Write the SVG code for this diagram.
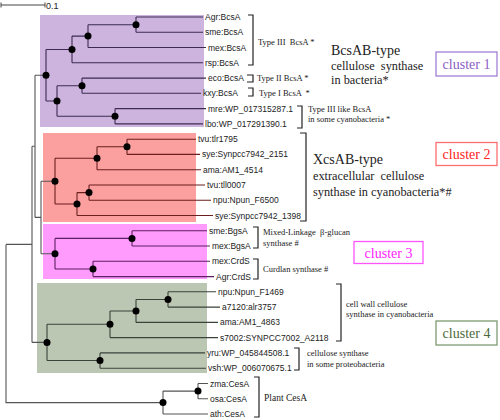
<svg xmlns="http://www.w3.org/2000/svg" width="500" height="420" viewBox="0 0 500 420">
<style>
.lf{font-family:"Liberation Sans",Arial,sans-serif;font-size:8.5px;fill:#222}
.an{font-family:"Liberation Serif","Times New Roman",serif;font-size:8.5px;fill:#222}
.big{font-family:"Liberation Serif","Times New Roman",serif;font-size:12.3px;fill:#222}
.ttl{font-family:"Liberation Serif","Times New Roman",serif;font-size:14px;fill:#222}
.cl{font-family:"Liberation Serif","Times New Roman",serif;font-size:14px;text-anchor:middle}
.br{fill:none;stroke:#222;stroke-width:1.2}
.t{fill:none;stroke-width:1.1}
.dot{fill:#000}
</style>
<rect width="500" height="420" fill="#fff"/>
<!-- cluster backgrounds -->
<g id="cluster-bg">
<rect x="40" y="15" width="164" height="112" fill="#cdb4df"/>
<rect x="43" y="133" width="153" height="89" fill="#fc9f9f"/>
<rect x="43" y="224" width="164" height="55" fill="#fe9bfd"/>
<rect x="37" y="283" width="170" height="90" fill="#bcc7b3"/>
</g>
<!-- scale bar -->
<g id="scale">
<path d="M1 5H45M1 2.5V7.5M45 2.5V7.5" stroke="#444" stroke-width="1" fill="none"/>
<text x="46" y="9" class="lf" style="font-size:9px">0.1</text>
</g>
<g id="connectors">
<!-- backbone -->
<path class="t" stroke="#555" d="M35 75.2H46M41 181.2H55M41 253.7H55M32 342.4H47M41 181.2V253.7M35 217.4H41M35 75.2V217.4M32 146.3H35M32 146.3V342.4M6 244.4H32M6 244.4V402.6H163"/>
<!-- cluster 1 -->
<path class="t" stroke="#3d2b52" d="M136 17V32.3M136 17H203M136 32.3H203M88 24.7V47.5M88 24.7H136M88 47.5H206M72 36.1V62.8M72 36.1H88M72 62.8H203M82 78.1V93.3M82 78.1H206M82 93.3H201M115 108.6V123.9M115 108.6H206M115 123.9H203M57 85.7V116.3M57 85.7H82M57 116.3H115M46 49.5V101M46 49.5H72M46 101H57"/>
<!-- cluster 2 -->
<path class="t" stroke="#6b1f1f" d="M127 139.2V154.4M127 139.2H196M127 154.4H200M97 146.8V169.7M97 146.8H127M97 169.7H201M89 185V200.2M89 185H205M89 200.2H211M77 192.6V215.5M77 192.6H89M77 215.5H213M55 158.3V204M55 158.3H97M55 204H77"/>
<!-- cluster 3 -->
<path class="t" stroke="#5e1f63" d="M132 230.8V246M132 230.8H207M132 246H210M93 261.3V276.6M93 261.3H210M93 276.6H214M55 238.4V269M55 238.4H132M55 269H93"/>
<!-- cluster 4 -->
<path class="t" stroke="#39433a" d="M168 291.8V307.1M168 291.8H216M168 307.1H220M136 299.5V322.4M136 299.5H168M136 322.4H218M110 311V337.6M110 311H136M110 337.6H218M100 352.9V368.2M100 352.9H205M100 368.2H206M47 324.3V360.5M47 324.3H110M47 360.5H100"/>
<!-- plant -->
<path class="t" stroke="#555" d="M198 383.5V398.7M198 383.5H208M198 398.7H208M163 391.1V414M163 391.1H198M163 414H208"/>
<!-- brackets -->
<path class="br" d="M248 15H253V65H248M247 75H253V82H247M248 88H253V96H248M297 106H302V128H297M300 133H306V221H300M253 227H258V248H253M253 259H258V279H253M336 284H341V341H336M294 348H299V370H294M254 377H259V417H254"/>
</g>
<g id="node-dots">
<circle class="dot" cx="136" cy="24.7" r="3.5"/><circle class="dot" cx="88" cy="36.1" r="3.5"/><circle class="dot" cx="72" cy="49.5" r="3.5"/><circle class="dot" cx="82" cy="85.7" r="3.5"/><circle class="dot" cx="115" cy="116.3" r="3.5"/><circle class="dot" cx="57" cy="101" r="3.5"/><circle class="dot" cx="46" cy="75.2" r="3.5"/>
<circle class="dot" cx="127" cy="146.8" r="3.5"/><circle class="dot" cx="97" cy="158.3" r="3.5"/><circle class="dot" cx="89" cy="192.6" r="3.5"/><circle class="dot" cx="77" cy="204" r="3.5"/><circle class="dot" cx="55" cy="181.2" r="3.5"/>
<circle class="dot" cx="132" cy="238.4" r="3.5"/><circle class="dot" cx="93" cy="269" r="3.5"/><circle class="dot" cx="55" cy="253.7" r="3.5"/>
<circle class="dot" cx="168" cy="299.5" r="3.5"/><circle class="dot" cx="136" cy="311" r="3.5"/><circle class="dot" cx="110" cy="324.3" r="3.5"/><circle class="dot" cx="100" cy="360.5" r="3.5"/><circle class="dot" cx="47" cy="342.4" r="3.5"/>
<circle class="dot" cx="198" cy="391.1" r="3.5"/><circle class="dot" cx="163" cy="402.6" r="3.5"/>
</g>
<g id="leaves">
<text class="lf" x="205" y="20">Agr:BcsA</text>
<text class="lf" x="205" y="35.3">sme:BcsA</text>
<text class="lf" x="208" y="50.5">mex:BcsA</text>
<text class="lf" x="205" y="65.8">rsp:BcsA</text>
<text class="lf" x="208" y="81.1">eco:BcsA</text>
<text class="lf" x="203" y="96.3">kxy:BcsA</text>
<text class="lf" x="208" y="111.6">mre:WP_017315287.1</text>
<text class="lf" x="205" y="126.9">lbo:WP_017291390.1</text>
<text class="lf" x="198" y="142.2">tvu:tlr1795</text>
<text class="lf" x="202" y="157.4">sye:Synpcc7942_2151</text>
<text class="lf" x="203" y="172.7">ama:AM1_4514</text>
<text class="lf" x="207" y="188">tvu:tll0007</text>
<text class="lf" x="213" y="203.2">npu:Npun_F6500</text>
<text class="lf" x="215" y="218.5">sye:Synpcc7942_1398</text>
<text class="lf" x="209" y="233.8">sme:BgsA</text>
<text class="lf" x="212" y="249">mex:BgsA</text>
<text class="lf" x="212" y="264.3">mex:CrdS</text>
<text class="lf" x="216" y="279.6">Agr:CrdS</text>
<text class="lf" x="218" y="294.8">npu:Npun_F1469</text>
<text class="lf" x="222" y="310.1">a7120:alr3757</text>
<text class="lf" x="220" y="325.4">ama:AM1_4863</text>
<text class="lf" x="220" y="340.6">s7002:SYNPCC7002_A2118</text>
<text class="lf" x="207" y="355.9">yru:WP_045844508.1</text>
<text class="lf" x="208" y="371.2">vsh:WP_006070675.1</text>
<text class="lf" x="210" y="386.5">zma:CesA</text>
<text class="lf" x="210" y="401.7">osa:CesA</text>
<text class="lf" x="210" y="417">ath:CesA</text>
</g>
<g id="annotations">
<text class="an" x="258" y="45" xml:space="preserve">Type III  BcsA *</text>
<text class="an" x="257" y="81">Type II BcsA *</text>
<text class="an" x="259" y="95.5" xml:space="preserve">Type I BcsA  *</text>
<text class="an" x="308" y="112">Type III like BcsA</text>
<text class="an" x="308" y="122">in some cyanobacteria *</text>
<text class="an" x="263" y="235" xml:space="preserve">Mixed-Linkage  β-glucan</text>
<text class="an" x="263" y="246">synthase #</text>
<text class="an" x="263" y="271.5">Curdlan synthase #</text>
<text class="an" x="346" y="306.5">cell wall cellulose</text>
<text class="an" x="346" y="317">synthase in cyanobacteria</text>
<text class="an" x="307" y="356">cellulose synthase</text>
<text class="an" x="307" y="366.5">in some proteobacteria</text>
<text class="an" x="264" y="400.5" style="font-size:9.5px">Plant CesA</text>
</g>
<g id="group-bcsab">
<text class="ttl" x="331" y="55">BcsAB-type</text>
<text class="big" x="331" y="70" xml:space="preserve">cellulose  synthase</text>
<text class="big" x="331" y="84">in bacteria*</text>
</g>
<g id="group-xcsab">
<text class="ttl" x="313" y="164">XcsAB-type</text>
<text class="big" x="313" y="179.5" xml:space="preserve">extracellular  cellulose</text>
<text class="big" x="313" y="196">synthase in cyanobacteria*#</text>
</g>
<g id="cluster1">
<rect x="436" y="52" width="61" height="24" fill="#fff" stroke="#a47fd4" stroke-width="1.3"/>
<text class="cl" x="466.5" y="69" fill="#8a5ec4">cluster 1</text>
</g>
<g id="cluster2">
<rect x="436" y="142.5" width="61" height="23" fill="#fff" stroke="#ff6e6e" stroke-width="1.3"/>
<text class="cl" x="466.5" y="158.5" fill="#ff2424">cluster 2</text>
</g>
<g id="cluster3">
<rect x="354" y="241.5" width="69" height="22" fill="#fff" stroke="#ff55ff" stroke-width="1.3"/>
<text class="cl" x="388.5" y="257.5" fill="#ff22ff">cluster 3</text>
</g>
<g id="cluster4">
<rect x="436" y="321" width="61" height="24" fill="#fff" stroke="#7f9a70" stroke-width="1.3"/>
<text class="cl" x="466.5" y="338" fill="#4b6a3c">cluster 4</text>
</g>
</svg>
